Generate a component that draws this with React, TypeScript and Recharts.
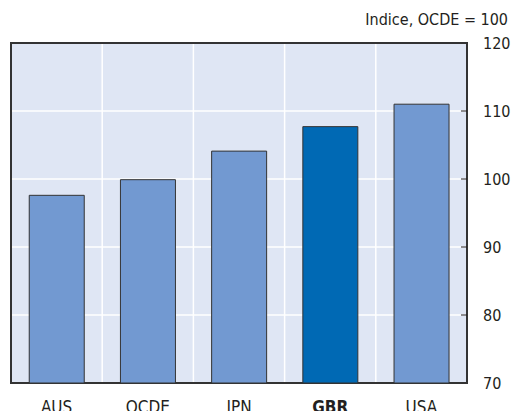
import { BarChart, Bar, XAxis, YAxis, CartesianGrid, ReferenceArea, Cell } from "recharts";

const CATEGORIES = ["AUS", "OCDE", "JPN", "GBR", "USA"];
const VALUES = [97.6, 99.9, 104.1, 107.7, 111.0];
const HIGHLIGHT = "GBR";
const Y_TICKS = [70, 80, 90, 100, 110, 120];

const FONT = "'Liberation Sans Narrow', 'DejaVu Sans Condensed', sans-serif";
const INK = "#231f20";

const data = CATEGORIES.map((c, i) => ({ name: c, value: VALUES[i] }));

function YTick(props: any) {
  const { x, y, payload } = props;
  const v = payload.value;
  const showMark = v > 70 && v < 120;
  return (
    <g>
      {showMark && <line x1={x - 22} x2={x - 16} y1={y} y2={y} stroke={INK} strokeWidth={1} />}
      <text x={x} y={y} textAnchor="start" dominantBaseline="central" fontFamily={FONT} fontSize={16} fill={INK}>
        {v}
      </text>
    </g>
  );
}

function XTick(props: any) {
  const { x, y, payload } = props;
  const bold = payload.value === HIGHLIGHT;
  return (
    <text x={x} y={y} dy={24} textAnchor="middle" dominantBaseline="central" fontFamily={FONT} fontSize={17}
      fontWeight={bold ? 700 : 400} fill={INK}>
      {payload.value}
    </text>
  );
}

export default function App() {
  return (
    <div style={{ position: "absolute", left: 0, top: 0, width: 512, height: 411, background: "#fff" }}>
      <div style={{
        position: "absolute", right: 4, top: 10, fontFamily: FONT, fontSize: 16, color: INK, lineHeight: "20px",
      }}>
        Indice, OCDE = 100
      </div>
      <BarChart width={512} height={411} data={data} margin={{ top: 43, right: 0, left: 11, bottom: 0 }}
        barCategoryGap="20%">
        <CartesianGrid stroke="#ffffff" strokeWidth={1.5} fill="#dfe6f4" fillOpacity={1}
          verticalCoordinatesGenerator={({ offset }: any) =>
            CATEGORIES.slice(1).map((_, i) => offset.left + (offset.width * (i + 1)) / CATEGORIES.length)
          } />
        <XAxis dataKey="name" height={28} axisLine={false} tickLine={false} tickSize={0} tickMargin={0}
          tick={<XTick />} interval={0} />
        <YAxis orientation="right" width={45} domain={[70, 120]} ticks={Y_TICKS} axisLine={false}
          tickLine={false} tickSize={0} tickMargin={16} tick={<YTick />} allowDataOverflow />
        <Bar dataKey="value" stroke="#333" strokeWidth={1} isAnimationActive={false}>
          {data.map((d) => (
            <Cell key={d.name} fill={d.name === HIGHLIGHT ? "#0069b4" : "#7299d1"} />
          ))}
        </Bar>
        <ReferenceArea y1={70} y2={120} fill="none" stroke="#333" strokeWidth={2} ifOverflow="visible" />
      </BarChart>
    </div>
  );
}
